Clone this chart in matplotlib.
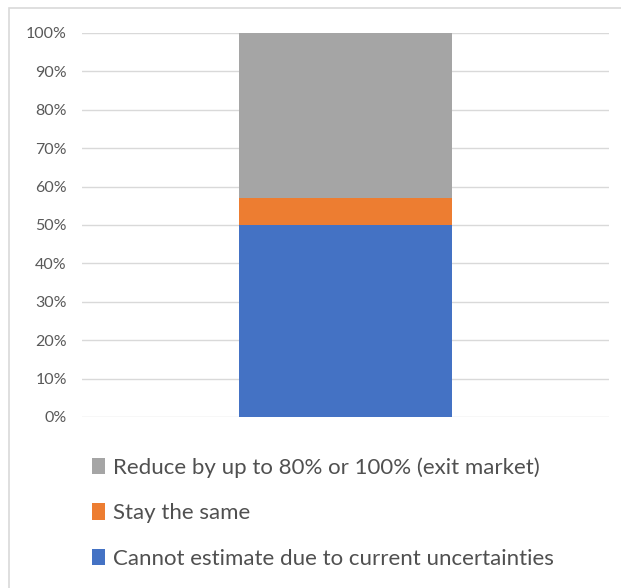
import matplotlib.pyplot as plt
from matplotlib.patches import Rectangle
from matplotlib.ticker import PercentFormatter

# shares of respondents (%), bottom to top
categories = ["Cannot estimate due to current uncertainties",
              "Stay the same",
              "Reduce by up to 80% or 100% (exit market)"]
shares = [50.0, 7.1, 42.9]
colors = ["#4472C4", "#ED7D31", "#A5A5A5"]

plt.rcParams["font.family"] = ["Lato", "DejaVu Sans"]

fig = plt.figure(figsize=(6.21, 5.88), dpi=100)
ax = fig.add_axes([82 / 621, 1 - 417 / 588, (609 - 82) / 621, (417 - 33) / 588])

bottom = 0
handles = []
for cat, val, col in zip(categories, shares, colors):
    b = ax.bar(0, val, bottom=bottom, width=0.81, color=col, label=cat, zorder=3)
    handles.append(b)
    bottom += val

ax.set_xlim(-1, 1)
ax.set_ylim(0, 100)
ax.set_yticks(range(0, 101, 10))
ax.yaxis.set_major_formatter(PercentFormatter(decimals=0))
ax.set_xticks([])
ax.tick_params(axis="y", length=0, labelsize=11.5, labelcolor="#595959", pad=11)
ax.grid(axis="y", color="#D9D9D9", linewidth=1, zorder=0)
for s in ax.spines.values():
    s.set_visible(False)

# legend below the plot, reversed order like the stack
fig.legend(handles[::-1], categories[::-1], loc="upper left",
           bbox_to_anchor=(72 / 621, 1 - 437 / 588), frameon=False,
           fontsize=16, labelcolor="#505050", handlelength=0.6,
           handleheight=0.75, handletextpad=0.35, labelspacing=1.15)

# outer chart border
fig.patches.append(Rectangle((9 / 621, -0.01), 1.0, 1 - 8 / 588 + 0.01,
                             transform=fig.transFigure, fill=False,
                             edgecolor="#D9D9D9", linewidth=1.2))

fig.savefig("out.png", dpi=100)
